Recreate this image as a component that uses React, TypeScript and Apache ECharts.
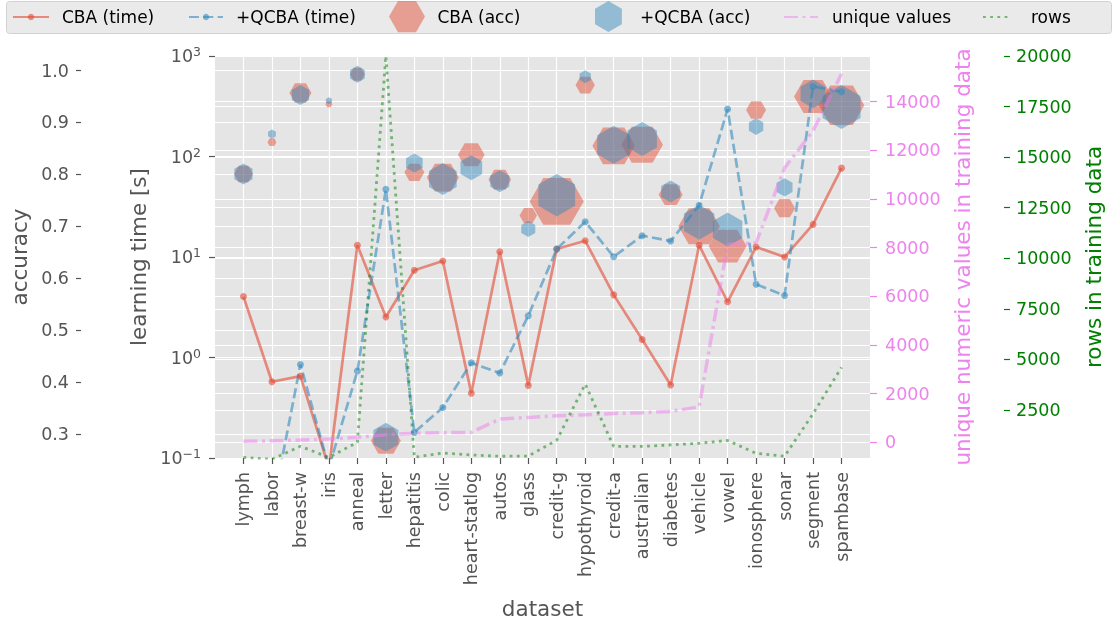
import React, { useEffect, useRef } from "react";
import * as echarts from "echarts";

const datasets = ["lymph", "labor", "breast-w", "iris", "anneal", "letter", "hepatitis", "colic", "heart-statlog", "autos", "glass", "credit-g", "hypothyroid", "credit-a", "australian", "diabetes", "vehicle", "vowel", "ionosphere", "sonar", "segment", "spambase"];

// learning time [s]
const cbaTime = [4.04, 0.574, 0.653, 0.08, 13.1, 2.53, 7.38, 9.12, 0.44, 11.3, 0.528, 12.0, 14.5, 4.2, 1.51, 0.532, 13.1, 3.58, 12.6, 10.0, 21.1, 76.6];
const qcbaTime = [0.03, 0.03, 0.853, 0.08, 0.733, 47.1, 0.18, 0.318, 0.885, 0.7, 2.6, 12.0, 22.4, 10.07, 16.3, 14.4, 32.7, 296, 5.36, 4.14, 497, 440];

// accuracy
const cbaAcc = [0.801, 0.862, 0.957, 0.935, 0.993, 0.287, 0.804, 0.794, 0.838, 0.79, 0.721, 0.748, 0.972, 0.855, 0.857, 0.761, 0.7, 0.662, 0.924, 0.735, 0.95, 0.933];
const qcbaAcc = [0.801, 0.878, 0.953, 0.942, 0.993, 0.294, 0.822, 0.791, 0.813, 0.787, 0.695, 0.76, 0.988, 0.857, 0.868, 0.767, 0.708, 0.694, 0.892, 0.775, 0.955, 0.93];
// hexagon marker radius (bubble size)
const cbaMarkerR = [9.5, 4.5, 11, 3.5, 7.5, 15, 10, 16, 13.3, 11.3, 8.7, 27, 9.7, 21.3, 20.8, 12, 20.8, 19, 10, 10.5, 19, 22.8];
const qcbaMarkerR = [10.5, 4.5, 10, 3.5, 8.5, 14.4, 9.6, 16, 12.5, 11, 8.1, 21.2, 6.5, 19, 17, 11, 17.5, 17, 8.3, 9.2, 14.4, 22];

const uniqueValues = [41, 66, 94, 135, 205, 311, 381, 398, 410, 955, 1025, 1090, 1131, 1188, 1215, 1270, 1460, 8127, 8197, 11270, 12800, 15140];
const rows = [148, 57, 699, 150, 898, 20000, 155, 368, 270, 205, 214, 1000, 3772, 690, 690, 768, 846, 990, 351, 208, 2310, 4601];

const accTicks = [0.3, 0.4, 0.5, 0.6, 0.7, 0.8, 0.9, 1.0];
const uniqueTicks = [0, 2000, 4000, 6000, 8000, 10000, 12000, 14000];
const rowTicks = [2500, 5000, 7500, 10000, 12500, 15000, 17500, 20000];

const FONT = "DejaVu Sans";
const RED = "rgba(226,74,51,0.6)";
const BLUE = "rgba(52,138,189,0.6)";
const VIOLET = "rgba(238,130,238,0.5)";
const GREEN = "rgba(0,128,0,0.5)";
const HEX_FLAT = "path://M0,86.6L50,0L150,0L200,86.6L150,173.2L50,173.2Z";
const HEX_POINTY = "path://M86.6,0L173.2,50L173.2,150L86.6,200L0,150L0,50Z";

const tickLabel = { fontFamily: FONT, fontSize: 17.5, color: "#555555" };
const nameStyle = { fontFamily: FONT, fontSize: 21.5, color: "#555555" };
const white = { show: true, lineStyle: { color: "#ffffff", width: 1.2 } };
const noLine = { show: false, onZero: false };

function legendAt(name: string, left: number, top: number, w: number, h: number, pad: number, extra: any = {}) {
  return {
    data: [name],
    left,
    top,
    padding: 0,
    itemWidth: w,
    itemHeight: h,
    selectedMode: false,
    textStyle: { fontFamily: FONT, fontSize: 17, color: "#000", lineHeight: 20, padding: [0, 0, 0, pad] },
    ...extra,
  };
}

export default function App() {
  const ref = useRef<HTMLDivElement>(null);
  useEffect(() => {
    const chart = echarts.init(ref.current!, null, { renderer: "svg" });
    const idx = datasets.map((_, i) => i);
    const option: any = {
      animation: false,
      graphic: [
        {
          type: "rect",
          shape: { x: 6.5, y: 1.5, width: 1105, height: 32, r: 3 },
          style: { fill: "#eaeaea", stroke: "#d2d2d2", lineWidth: 1 },
          z: 0,
        },
      ],
      legend: [
        legendAt("CBA (time)", 12, 7, 36, 8, 8),
        legendAt("+QCBA (time)", 188, 7, 34, 8, 8),
        legendAt("CBA (acc)", 389, 1, 36, 32, 7.5),
        legendAt("+QCBA (acc)", 595, 1, 27, 31, 13),
        legendAt("unique values", 783, 7, 34, 8, 9, { itemStyle: { opacity: 0 } }),
        legendAt("rows", 982, 7, 25, 8, 18, { itemStyle: { opacity: 0 } }),
      ],
      grid: { left: 215, top: 56, width: 655, height: 403, show: true, backgroundColor: "#E5E5E5", borderWidth: 0 },
      xAxis: {
        type: "value",
        min: -1,
        max: 22,
        interval: 1,
        name: "dataset",
        nameLocation: "middle",
        nameGap: 139,
        nameTextStyle: nameStyle,
        axisLine: noLine,
        axisTick: { show: true, customValues: idx, length: 6, lineStyle: { color: "#555555", width: 1.2 } },
        axisLabel: { ...tickLabel, customValues: idx, rotate: 90, margin: 14, formatter: (v: number) => datasets[v] ?? "" },
        splitLine: white,
      },
      yAxis: [
        {
          type: "log",
          logBase: 10,
          min: 0.1,
          max: 1000,
          position: "left",
          name: "learning time [s]",
          nameLocation: "middle",
          nameRotate: 90,
          nameGap: 64,
          nameTextStyle: nameStyle,
          axisLine: noLine,
          axisTick: { show: true, length: 6, lineStyle: { color: "#555555", width: 1.2 } },
          axisLabel: {
            margin: 14,
            formatter: (v: number) => {
              const e = Math.round(Math.log10(v));
              return `{b|10}{s|${e < 0 ? "\u2212" + -e : e}}`;
            },
            rich: {
              b: { fontFamily: FONT, fontSize: 17.5, color: "#555555", lineHeight: 22 },
              s: { fontFamily: FONT, fontSize: 12.5, color: "#555555", lineHeight: 12, verticalAlign: "top" },
            },
          },
          splitLine: white,
        },
        {
          type: "value",
          min: 0.254,
          max: 1.028,
          position: "left",
          offset: 134,
          name: "accuracy",
          nameLocation: "middle",
          nameRotate: 90,
          nameGap: 39,
          nameTextStyle: nameStyle,
          axisLine: noLine,
          axisTick: { show: true, customValues: accTicks, length: 5, lineStyle: { color: "#555555", width: 1.2 } },
          axisLabel: { ...tickLabel, customValues: accTicks, margin: 12, formatter: (v: number) => v.toFixed(1) },
          splitLine: white,
        },
        {
          type: "value",
          min: -643,
          max: 15873,
          position: "right",
          offset: 0,
          name: "unique numeric values in training data",
          nameLocation: "middle",
          nameRotate: 90,
          nameGap: 75,
          nameTextStyle: { ...nameStyle, color: "violet" },
          axisLine: noLine,
          axisTick: { show: true, customValues: uniqueTicks, length: 7, lineStyle: { color: "violet", width: 1.2 } },
          axisLabel: { ...tickLabel, color: "violet", customValues: uniqueTicks, margin: 15, formatter: (v: number) => String(v) },
          splitLine: white,
        },
        {
          type: "value",
          min: 120,
          max: 20000,
          position: "right",
          offset: 134,
          name: "rows in training data",
          nameLocation: "middle",
          nameRotate: 90,
          nameGap: 69,
          nameTextStyle: { ...nameStyle, color: "green" },
          axisLine: noLine,
          axisTick: { show: true, customValues: rowTicks, length: 6, lineStyle: { color: "green", width: 1.2 } },
          axisLabel: { ...tickLabel, color: "green", customValues: rowTicks, margin: 12, formatter: (v: number) => String(v) },
          splitLine: white,
        },
      ],
      series: [
        {
          name: "CBA (time)",
          type: "line",
          yAxisIndex: 0,
          data: cbaTime.map((v, i) => [i, v]),
          symbol: "circle",
          symbolSize: 7,
          showAllSymbol: true,
          clip: true,
          lineStyle: { color: RED, width: 2.7 },
          itemStyle: { color: RED },
          emphasis: { disabled: true },
        },
        {
          name: "+QCBA (time)",
          type: "line",
          yAxisIndex: 0,
          data: qcbaTime.map((v, i) => [i, v]),
          symbol: "circle",
          symbolSize: 7,
          showAllSymbol: true,
          clip: true,
          lineStyle: { color: BLUE, width: 2.7, type: [10, 4.3] },
          itemStyle: { color: BLUE },
          emphasis: { disabled: true },
        },
        {
          name: "CBA (acc)",
          type: "scatter",
          yAxisIndex: 1,
          data: cbaAcc.map((v, i) => [i, v, cbaMarkerR[i]]),
          symbol: HEX_FLAT,
          symbolKeepAspect: true,
          symbolSize: (d: number[]) => d[2] * 2,
          itemStyle: { color: RED },
          emphasis: { disabled: true },
        },
        {
          name: "+QCBA (acc)",
          type: "scatter",
          yAxisIndex: 1,
          data: qcbaAcc.map((v, i) => [i, v, qcbaMarkerR[i]]),
          symbol: HEX_POINTY,
          symbolKeepAspect: true,
          symbolSize: (d: number[]) => d[2] * 2,
          itemStyle: { color: BLUE },
          emphasis: { disabled: true },
        },
        {
          name: "unique values",
          type: "line",
          yAxisIndex: 2,
          data: uniqueValues.map((v, i) => [i, v]),
          symbol: "none",
          lineStyle: { color: VIOLET, width: 3.5, type: [14, 4.5, 3, 4.5] },
          itemStyle: { color: VIOLET },
          emphasis: { disabled: true },
        },
        {
          name: "rows",
          type: "line",
          yAxisIndex: 3,
          data: rows.map((v, i) => [i, v]),
          symbol: "none",
          clip: true,
          lineStyle: { color: GREEN, width: 2.8, type: [2.8, 4.4] },
          itemStyle: { color: GREEN },
          emphasis: { disabled: true },
        },
      ],
    };
    chart.setOption(option);
    return () => chart.dispose();
  }, []);
  return <div ref={ref} style={{ position: "fixed", left: 0, top: 0, width: 1114, height: 624 }} />;
}
